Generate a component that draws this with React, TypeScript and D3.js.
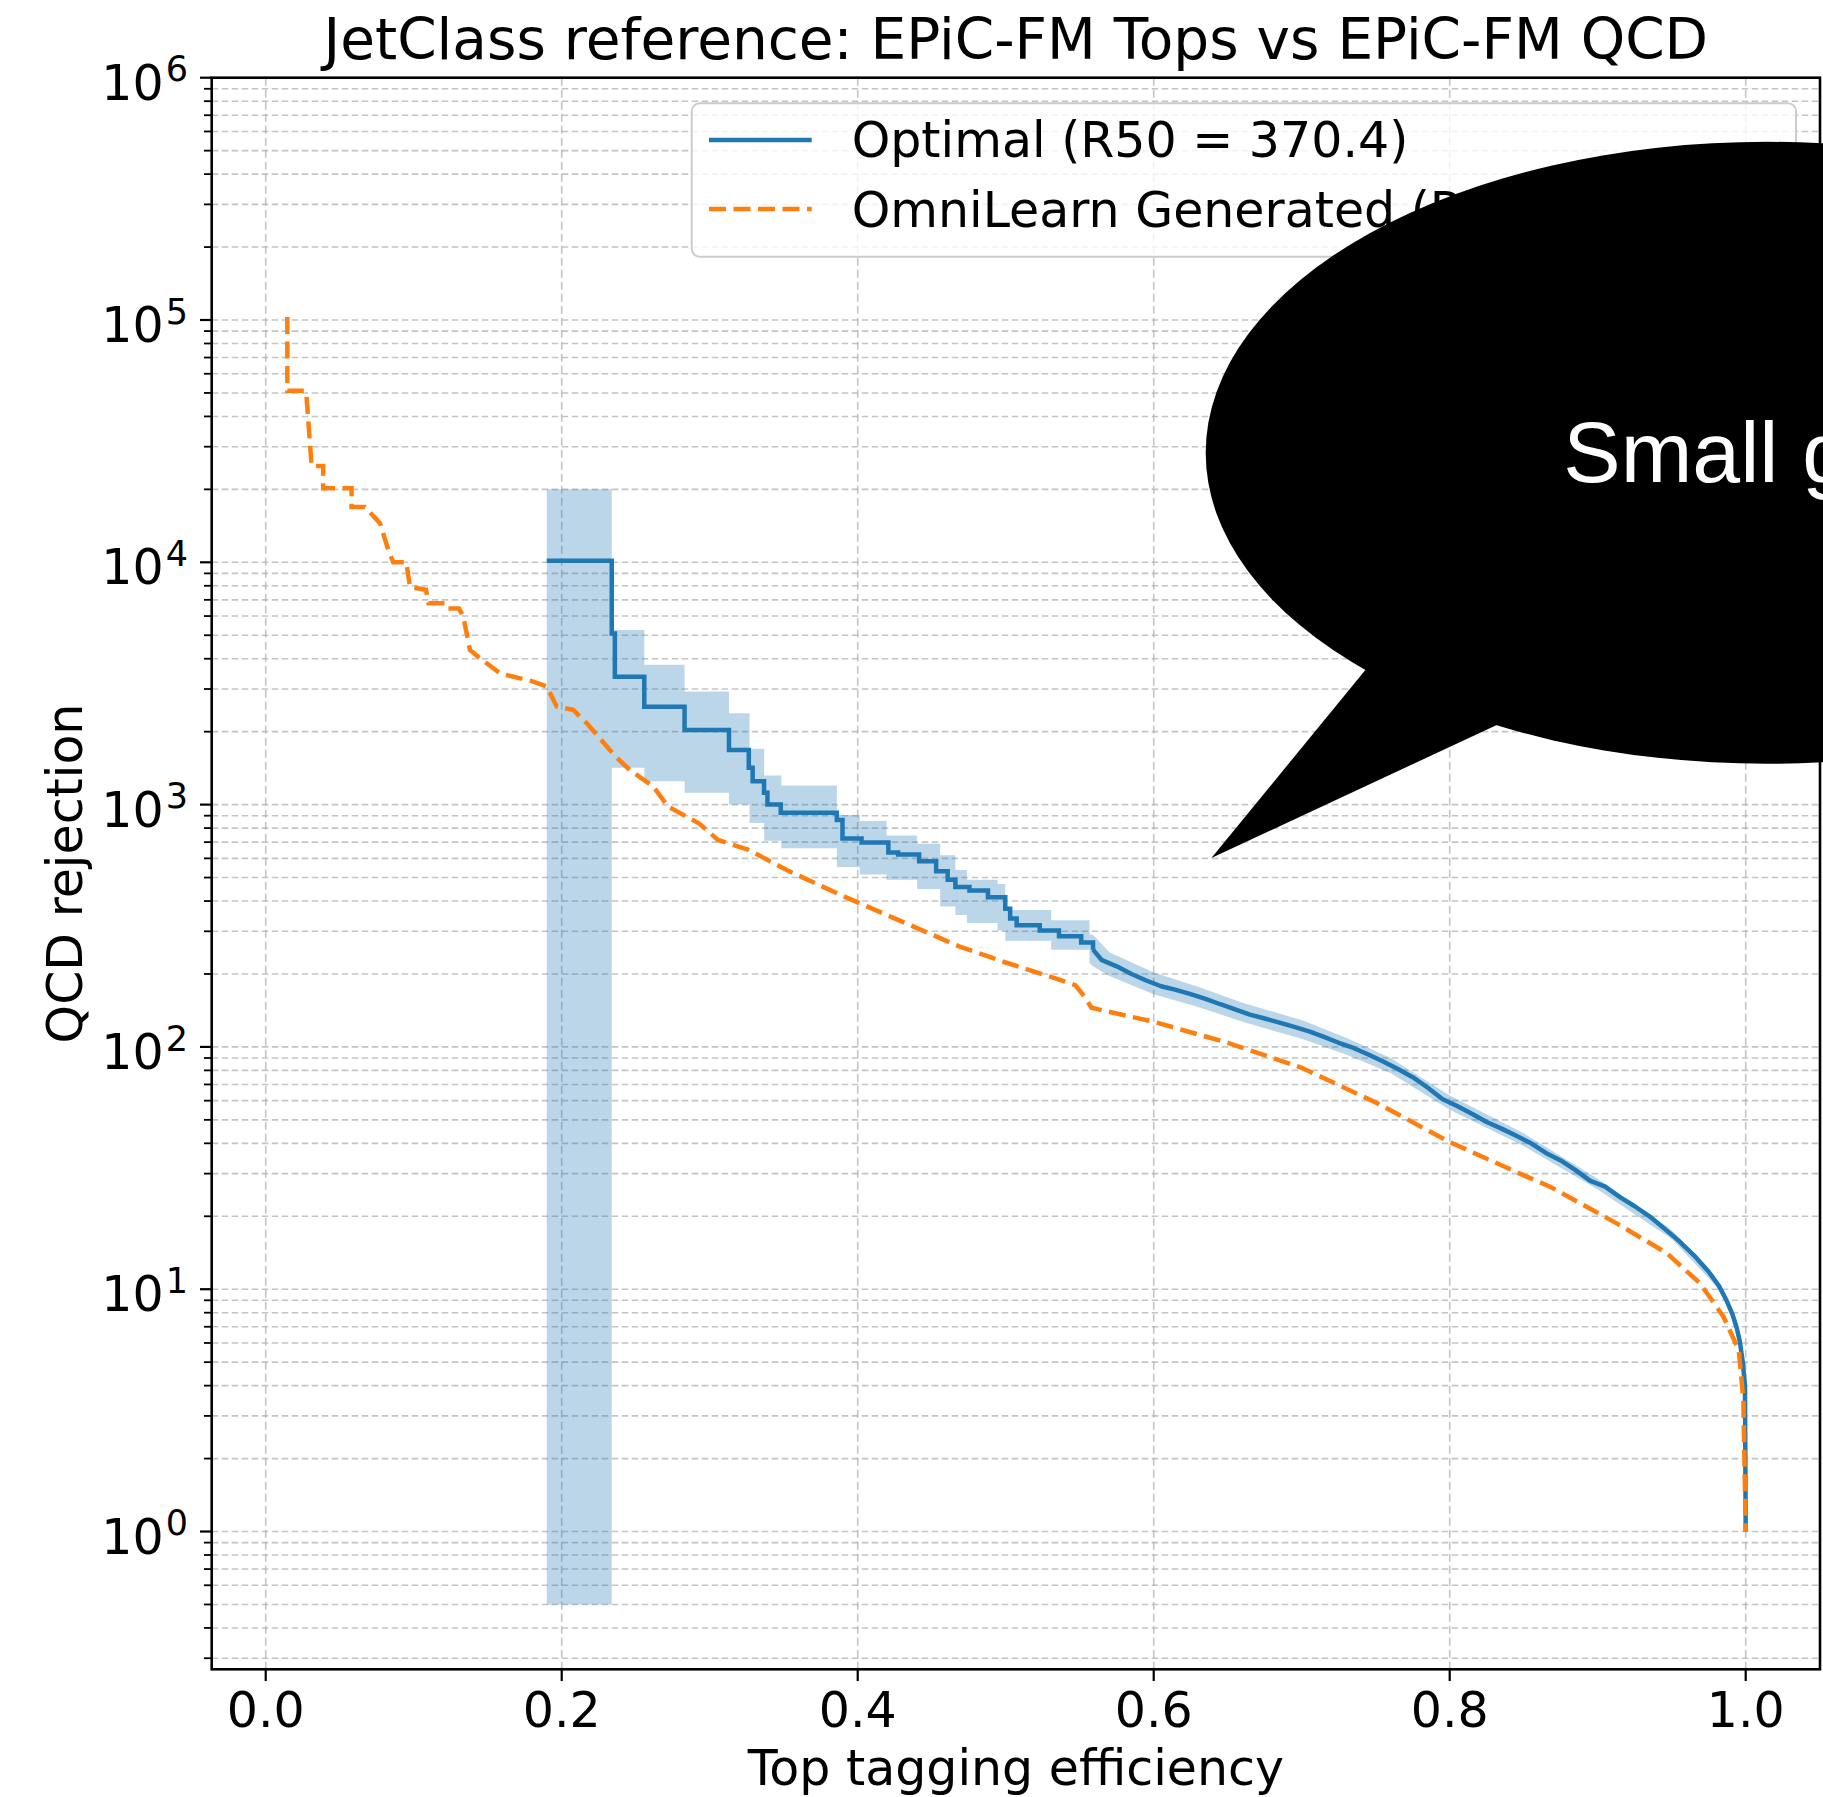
import React from "react";
import * as d3 from "d3";

const W = 1823;
const H = 1797;

// ---- data ----
const optimalEff = [
  0.1899, 0.2338, 0.2359, 0.2558, 0.283, 0.313, 0.3264, 0.329, 0.3367, 0.339,
  0.348, 0.3859, 0.3897, 0.4026, 0.4207, 0.4273, 0.4415, 0.453, 0.4608, 0.466,
  0.4755, 0.488, 0.4997, 0.503, 0.5074, 0.523, 0.536, 0.551, 0.559, 0.565,
  0.575, 0.585, 0.595, 0.605, 0.615, 0.625, 0.635, 0.645, 0.655, 0.665,
  0.675, 0.685, 0.695, 0.705, 0.715, 0.725, 0.735, 0.745, 0.755, 0.765,
  0.775, 0.785, 0.795, 0.805, 0.815, 0.825, 0.835, 0.845, 0.855, 0.865,
  0.875, 0.885, 0.895, 0.905, 0.915, 0.925, 0.935, 0.945, 0.955, 0.965,
  0.975, 0.982, 0.987, 0.991, 0.994, 0.996, 0.998, 0.9995, 1.0,
];
const optimalRej = [
  10140, 5080, 3370, 2535, 2030, 1680, 1420, 1250, 1120, 1000,
  925, 863, 725, 697, 635, 622, 584, 531, 490, 457,
  442, 415, 372, 339, 318, 302, 286, 270, 252, 228,
  215, 200, 188, 178, 172, 165, 158, 150, 143, 136,
  131, 126, 121, 116, 110, 104, 99, 93, 87, 81,
  75, 68, 61, 57, 53, 49, 46, 43, 40, 36.5,
  34, 31, 28, 26.5, 24, 22, 20, 17.8, 15.8, 13.8,
  11.8, 10.3, 9.0, 7.9, 6.9, 6.1, 5.0, 4.0, 1.0,
];

const bandEff = [
  0.1899, 0.2338, 0.2558, 0.283, 0.313, 0.3269, 0.3368, 0.3484, 0.3859, 0.4014,
  0.4195, 0.4401, 0.4557, 0.466, 0.4738, 0.4945, 0.4997, 0.5307, 0.5566, 0.559,
  0.57, 0.6, 0.63, 0.66, 0.7, 0.73, 0.76, 0.8, 0.85, 0.9,
  0.95, 0.98, 0.987, 0.994, 0.998, 0.9995, 1.0,
];
const bandLow = [
  0.5, 1420, 1250, 1120, 1000, 840, 710, 660, 553, 515,
  490, 448, 380, 350, 325, 302, 274, 252, 222, 215,
  196, 165, 146, 127, 108, 93, 78, 55, 39, 25.8,
  16.1, 10.3, 8.7, 6.7, 4.85, 3.9, 1,
];
const bandHigh = [
  20000, 5250, 3780, 2930, 2380, 1700, 1320, 1200, 905, 855,
  745, 690, 618, 537, 490, 470, 367, 333, 292, 290,
  246, 203, 177, 152, 129, 109, 90, 63, 44, 28.6,
  17.5, 11.1, 9.3, 7.1, 5.15, 4.1, 1,
];

const generatedEff = [
  0.0146, 0.0146, 0.0266, 0.0275, 0.031, 0.0388, 0.0388, 0.058, 0.058, 0.067,
  0.0772, 0.0829, 0.0862, 0.095, 0.0975, 0.1083, 0.11, 0.1216, 0.123, 0.1306,
  0.1335, 0.138, 0.1448, 0.1583, 0.1808, 0.1899, 0.1966, 0.2078, 0.2168, 0.2304,
  0.2359, 0.246, 0.2617, 0.272, 0.2927, 0.3056, 0.3264, 0.352, 0.391, 0.43,
  0.4685, 0.5, 0.53, 0.547, 0.553, 0.558, 0.6, 0.65, 0.7, 0.75,
  0.8, 0.85, 0.8678, 0.9128, 0.9466, 0.969, 0.985, 0.9953, 0.9984, 1.0,
];
const generatedRej = [
  103000, 51000, 51000, 49000, 25000, 25000, 20200, 20200, 16900, 16900,
  14500, 11200, 10000, 10000, 7900, 7700, 6780, 6780, 6450, 6450,
  5970, 4350, 4020, 3480, 3220, 3070, 2540, 2460, 2170, 1740,
  1590, 1390, 1190, 980, 837, 715, 650, 537, 417, 329,
  260, 223, 195, 180, 162, 145, 127, 104, 82, 59,
  40.5, 29.5, 26.5, 18.7, 14.1, 10.6, 7.7, 5.6, 3.5, 1.0,
];

const xTicks = [0, 0.2, 0.4, 0.6, 0.8, 1.0];
const yMajorExp = [0, 1, 2, 3, 4, 5, 6];
const legendLabels = ["Optimal (R50 = 370.4)", "OmniLearn Generated (R50 = 223.5)"];
const titleText = "JetClass reference: EPiC-FM Tops vs EPiC-FM QCD";
const xLabelText = "Top tagging efficiency";
const yLabelText = "QCD rejection";
const bubbleText = "Small gap";

const xDomain = [-0.0365, 1.0502];
const yDomain = [0.27, 1e6];
// the sparse, coarse part of the ROC is drawn as steps; the dense tail as a line
const stepUntil = 0.559;
const bandStepUntil = 0.5566;

// ---- layout ----
const M = { left: 211.7, right: 1820, top: 77.7, bottom: 1669.3 };
const FONT = "'DejaVu Sans', sans-serif";
const BLUE = "#1f77b4";
const ORANGE = "#ff7f0e";

export default function App() {
  const x = d3.scaleLinear().domain(xDomain).range([M.left, M.right]);
  const y = d3.scaleLog().domain(yDomain).range([M.bottom, M.top]);

  const minorY: number[] = [];
  for (let e = -1; e <= 5; e++) {
    for (let m = 2; m <= 9; m++) {
      const v = m * Math.pow(10, e);
      if (v >= yDomain[0] && v <= yDomain[1]) minorY.push(v);
    }
  }
  const majorY = yMajorExp.map((e) => Math.pow(10, e));

  const optIdx = optimalEff.map((_, i) => i);
  const optStepIdx = optIdx.filter((i) => optimalEff[i] <= stepUntil);
  const optLinIdx = optIdx.filter((i) => optimalEff[i] >= stepUntil);

  const optStep = d3
    .line<number>()
    .x((i) => x(optimalEff[i]))
    .y((i) => y(optimalRej[i]))
    .curve(d3.curveStepAfter)(optStepIdx);
  const optLin = d3
    .line<number>()
    .x((i) => x(optimalEff[i]))
    .y((i) => y(optimalRej[i]))(optLinIdx);

  const bIdx = bandEff.map((_, i) => i);
  const bStepIdx = bIdx.filter((i) => bandEff[i] <= bandStepUntil);
  const bLinIdx = bIdx.filter((i) => bandEff[i] >= bandStepUntil);
  const bandStep = d3
    .area<number>()
    .x((i) => x(bandEff[i]))
    .y0((i) => y(bandLow[i]))
    .y1((i) => y(bandHigh[i]))
    .curve(d3.curveStepAfter)(bStepIdx);
  const bandLin = d3
    .area<number>()
    .x((i) => x(bandEff[i]))
    .y0((i) => y(bandLow[i]))
    .y1((i) => y(bandHigh[i]))(bLinIdx);

  const genLine = d3
    .line<number>()
    .x((_, i) => x(generatedEff[i]))
    .y((d) => y(d))(generatedRej);

  const gridStyle = { stroke: "#b0b0b0", strokeOpacity: 0.75, strokeWidth: 1.6 };

  return (
    <svg
      width={W}
      height={H}
      viewBox={`0 0 ${W} ${H}`}
      style={{ position: "absolute", left: 0, top: 0, background: "#fff" }}
    >
      <defs>
        <clipPath id="plotclip">
          <rect x={M.left} y={M.top} width={M.right - M.left} height={M.bottom - M.top} />
        </clipPath>
      </defs>
      <rect x={0} y={0} width={W} height={H} fill="#fff" />

      {/* grid */}
      <g>
        {[...majorY, ...minorY].map((v, i) => (
          <line
            key={"gy" + i}
            x1={M.left}
            x2={M.right}
            y1={y(v)}
            y2={y(v)}
            {...gridStyle}
            strokeDasharray="6.5,3.5"
          />
        ))}
        {xTicks.map((t) => (
          <line
            key={"gx" + t}
            x1={x(t)}
            x2={x(t)}
            y1={M.top}
            y2={M.bottom}
            {...gridStyle}
            strokeDasharray="8,4"
          />
        ))}
      </g>

      {/* data */}
      <g clipPath="url(#plotclip)">
        <path d={bandStep || ""} fill={BLUE} fillOpacity={0.3} stroke="none" />
        <path d={bandLin || ""} fill={BLUE} fillOpacity={0.3} stroke="none" />
        <path d={optStep || ""} fill="none" stroke={BLUE} strokeWidth={4.5} />
        <path d={optLin || ""} fill="none" stroke={BLUE} strokeWidth={4.5} strokeLinejoin="round" />
        <path
          d={genLine || ""}
          fill="none"
          stroke={ORANGE}
          strokeWidth={4.5}
          strokeDasharray="17,7.5"
        />
      </g>

      {/* spines */}
      <rect
        x={M.left}
        y={M.top}
        width={M.right - M.left}
        height={M.bottom - M.top}
        fill="none"
        stroke="#000"
        strokeWidth={2.6}
      />

      {/* x ticks */}
      <g fontFamily={FONT} fontSize={49} fill="#000">
        {xTicks.map((t) => (
          <g key={"xt" + t}>
            <line x1={x(t)} x2={x(t)} y1={M.bottom} y2={M.bottom + 11.7} stroke="#000" strokeWidth={2.2} />
            <text x={x(t)} y={1726.5} textAnchor="middle">
              {t.toFixed(1)}
            </text>
          </g>
        ))}
      </g>

      {/* y ticks */}
      <g fontFamily={FONT} fill="#000">
        {minorY.map((v, i) => (
          <line key={"ym" + i} x1={M.left - 7.7} x2={M.left} y1={y(v)} y2={y(v)} stroke="#000" strokeWidth={1.8} />
        ))}
        {yMajorExp.map((e) => {
          const yy = y(Math.pow(10, e));
          return (
            <g key={"yM" + e}>
              <line x1={M.left - 11.7} x2={M.left} y1={yy} y2={yy} stroke="#000" strokeWidth={2.2} />
              <text x={188} y={yy + 22} textAnchor="end" fontSize={49}>
                <tspan>10</tspan>
                <tspan fontSize={35} dy={-18.3} dx={2}>
                  {String(e)}
                </tspan>
              </text>
            </g>
          );
        })}
      </g>

      {/* labels */}
      <text x={(M.left + M.right) / 2} y={59} textAnchor="middle" fontFamily={FONT} fontSize={56.5} fill="#000">
        {titleText}
      </text>
      <text x={(M.left + M.right) / 2} y={1784.5} textAnchor="middle" fontFamily={FONT} fontSize={49} fill="#000">
        {xLabelText}
      </text>
      <text
        transform={`translate(82, ${(M.top + M.bottom) / 2}) rotate(-90)`}
        textAnchor="middle"
        fontFamily={FONT}
        fontSize={49}
        fill="#000"
      >
        {yLabelText}
      </text>

      {/* legend */}
      <g fontFamily={FONT} fontSize={49}>
        <rect
          x={691.7}
          y={103.3}
          width={1104.3}
          height={153.4}
          rx={8}
          ry={8}
          fill="#fff"
          fillOpacity={0.8}
          stroke="#cccccc"
          strokeWidth={2}
        />
        <line x1={709} x2={811.7} y1={140} y2={140} stroke={BLUE} strokeWidth={4.5} />
        <text x={851.7} y={156.7} fill="#000">
          {legendLabels[0]}
        </text>
        <line x1={709} x2={811.7} y1={209} y2={209} stroke={ORANGE} strokeWidth={4.5} strokeDasharray="17,7.5" />
        <text x={851.7} y={226.7} fill="#000">
          {legendLabels[1]}
        </text>
      </g>

      {/* speech bubble overlay */}
      <g>
        <ellipse cx={1767.2} cy={452.8} rx={561.5} ry={311} fill="#000" />
        <polygon points="1371.9,662 1211.4,858 1503.2,722 1460,600" fill="#000" />
        <text
          x={1563.3}
          y={481.7}
          fontFamily="'Liberation Sans', Arial, Helvetica, sans-serif"
          fontSize={86}
          fill="#fff"
        >
          {bubbleText}
        </text>
      </g>
    </svg>
  );
}
